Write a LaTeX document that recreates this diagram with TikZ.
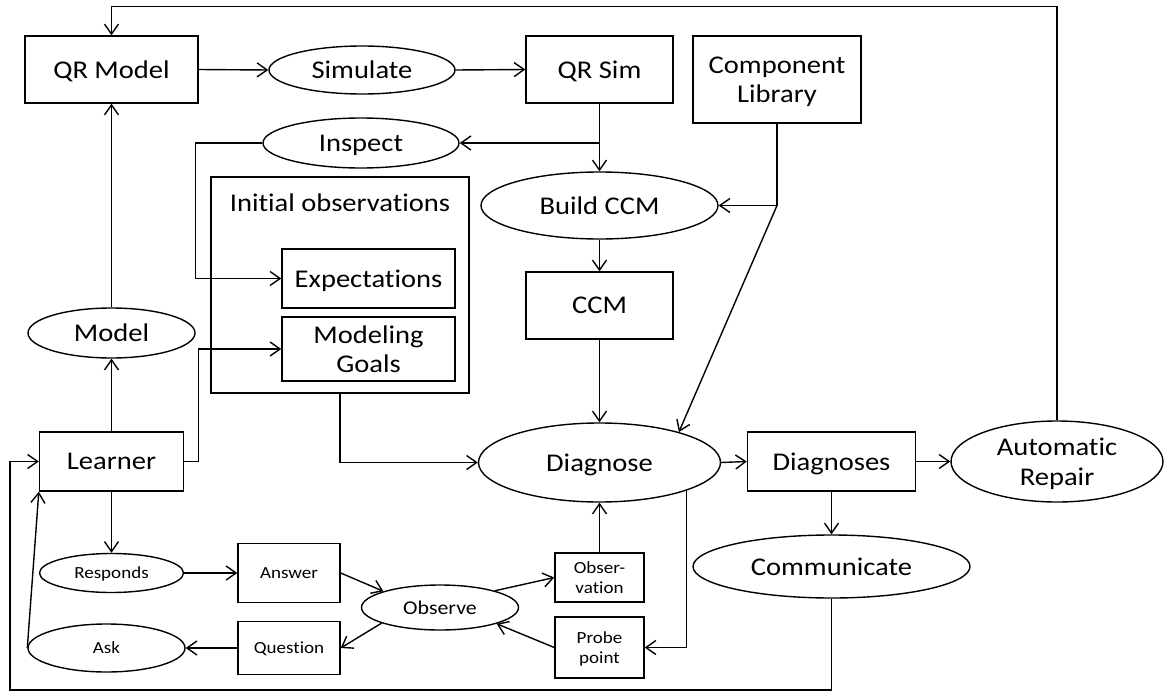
\documentclass[tikz,border=0pt]{standalone}
\usepackage{fontspec}
\setmainfont{Carlito}[FakeStretch=1.12, Ligatures=CommonOff]
\usetikzlibrary{shapes.geometric,arrows.meta}

\begin{document}
\begin{tikzpicture}[x=1pt,y=-1pt,
  line width=1.4pt,
  >={Straight Barb[length=10pt,width=14pt]},
  big/.style={font=\fontsize{25.5}{29.5}\selectfont},
  small/.style={font=\fontsize{17}{20.5}\selectfont},
  mid/.style={font=\fontsize{19.5}{23}\selectfont},
  box/.style={draw, rectangle, inner sep=0pt, align=center, text depth=0pt, big},
  oval/.style={draw, ellipse, inner sep=0pt, align=center, text depth=0pt, big}]

\useasboundingbox (0,0) rectangle (1164,693);

% modelling loop
\node[box, minimum width=173pt, minimum height=67pt] (qrmodel) at (111.5,69.5) {QR Model};
\node[oval, minimum width=186pt, minimum height=48pt] (simulate) at (362,70) {Simulate};
\node[box, minimum width=147pt, minimum height=67pt] (qrsim) at (599.5,69.5) {QR Sim};
\node[box, minimum width=168pt, minimum height=87pt] (complib) at (777,79.5) {Component\\Library};
\node[oval, minimum width=196pt, minimum height=50pt] (inspect) at (361,143) {Inspect};

% initial observations group
\node[box, minimum width=258pt, minimum height=216pt] (initobs) at (340,285) {};
\node[big, inner sep=0pt, text depth=0pt] (initlabel) at (340,203) {Initial observations};
\node[box, minimum width=173pt, minimum height=59pt] (expect) at (368.5,278.5) {Expectations};
\node[box, minimum width=173pt, minimum height=64pt] (goals) at (368.5,349) {Modeling\\Goals};

% diagnosis chain
\node[oval, minimum width=237pt, minimum height=67pt] (buildccm) at (599.5,205.5) {Build CCM};
\node[box, minimum width=147pt, minimum height=67pt] (ccm) at (599.5,305.5) {CCM};
\node[oval, minimum width=167pt, minimum height=50pt] (model) at (111.5,333) {Model};
\node[box, minimum width=144pt, minimum height=59pt] (learner) at (111.5,461.5) {Learner};
\node[oval, minimum width=242pt, minimum height=79pt] (diagnose) at (599.5,462.5) {Diagnose};
\node[box, minimum width=168pt, minimum height=59pt] (diagnoses) at (831.5,461.5) {Diagnoses};
\node[oval, minimum width=212pt, minimum height=81pt] (repair) at (1057,461.5) {Automatic\\Repair};
\node[oval, minimum width=277pt, minimum height=63pt] (communicate) at (831.5,566.5) {Communicate};

% dialogue with the learner
\node[oval, small, minimum width=144pt, minimum height=39pt] (responds) at (111.5,573) {Responds};
\node[box, small, minimum width=102pt, minimum height=59pt] (answer) at (289,573) {Answer};
\node[oval, mid, minimum width=157pt, minimum height=45pt] (observe) at (440,607.5) {Observe};
\node[box, small, minimum width=102pt, minimum height=53pt] (question) at (289,648) {Question};
\node[oval, small, minimum width=157pt, minimum height=48pt] (ask) at (106.5,648) {Ask};
\node[box, small, minimum width=89pt, minimum height=49pt] (obsv) at (599.5,577.5) {Obser-\\vation};
\node[box, small, minimum width=89pt, minimum height=61pt] (probe) at (599.5,647.5) {Probe\\point};

% connectors
\draw[->] (qrmodel.east) -- (simulate.west);
\draw[->] (simulate.east) -- (qrsim.west);
\draw[->] (qrsim.south) -- (buildccm.north);
\draw[->] (qrsim.south |- inspect.east) -- (inspect.east);
\draw[->] (inspect.west) -- ++(-67,0) |- (expect.west);
\draw[->] (complib.south) |- (buildccm.east);
\draw[->] (complib.south |- buildccm.east) -- (diagnose.21);
\draw[->] (buildccm.south) -- (ccm.north);
\draw[->] (ccm.south) -- (diagnose.north);
\draw[->] (initobs.south) |- (diagnose.west);
\draw[->] (diagnose.east) -- (diagnoses.west);
\draw[->] (diagnoses.east) -- (repair.west);
\draw[->] (repair.north) -- ++(0,-414) -| (qrmodel.north);
\draw[->] (diagnoses.south) -- (communicate.north);
\coordinate (loopcorner) at (10,690);
\draw[->] (communicate.south) |- (loopcorner) |- (learner.west);
\draw[->] (learner.north) -- (model.south);
\draw[->] (model.north) -- (qrmodel.south);
\draw[->] (learner.east) -- ++(14,0) |- (goals.west);
\draw[->] (learner.south) -- (responds.north);
\draw[->] (responds.east) -- (answer.west);
\draw[->] (answer.east) -- (observe.164);
\draw[->] (observe.17) -- (obsv.west);
\draw[->] (probe.west) -- (observe.-16);
\draw[->] (observe.195) -- (question.east);
\draw[->] (question.west) -- (ask.east);
\draw[->] (ask.west) -- (learner.south west);
\draw[->] (obsv.north) -- (diagnose.south);
\draw[->] (diagnose.-18) |- (probe.east);

\end{tikzpicture}
\end{document}
